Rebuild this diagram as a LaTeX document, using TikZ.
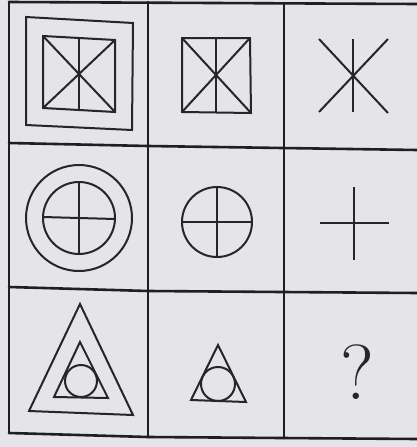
\documentclass[tikz,border=0pt]{standalone}
\begin{document}
\begin{tikzpicture}[x=1pt,y=-1pt,
  grid/.style={line width=2.6pt,color=black!88,line cap=round},
  fig/.style={line width=2pt,color=black!85,line join=miter}]
\definecolor{paper}{RGB}{228,228,233}
\fill[paper] (0,0) rectangle (417,447);
\useasboundingbox (0,0) rectangle (417,447);
% grid
\draw[grid] (9,2) -- (417,4);
\draw[grid] (9,143) -- (148,146) -- (417,150);
\draw[grid] (9,287) -- (148,291) -- (417,293);
\draw[grid] (9,433) -- (148,437) -- (417,439);
\draw[grid] (9,2) -- (9,433);
\draw[grid] (148,2) -- (148,437);
\draw[grid] (284,3) -- (284,438);
% row 1
\draw[fig] (26,17) -- (133,23) -- (132,130) -- (26,125) -- cycle;
\draw[fig] (43,36) -- (115,40) -- (115,112) -- (43,108) -- cycle;
\draw[fig] (79,38) -- (79,110);
\draw[fig] (43,36) -- (115,112);
\draw[fig] (115,40) -- (43,108);
\draw[fig] (182,38) -- (250,38) -- (251,113) -- (182,112) -- cycle;
\draw[fig] (216,38) -- (216,112);
\draw[fig] (182,38) -- (251,113);
\draw[fig] (250,38) -- (182,112);
\draw[fig] (319,39) -- (388,113);
\draw[fig] (388,39) -- (319,112);
\draw[fig] (353,39) -- (353,112);
% row 2
\draw[fig] (79,218) circle[radius=53];
\draw[fig] (79,218) circle[radius=36];
\draw[fig] (43,217) -- (115,219);
\draw[fig] (79,182) -- (79,254);
\draw[fig] (217,222) circle[radius=35];
\draw[fig] (182,222) -- (252,222);
\draw[fig] (217,187) -- (217,257);
\draw[fig] (320,223) -- (389,223);
\draw[fig] (354,187) -- (354,260);
% row 3
\draw[fig] (80,304) -- (133,415) -- (29,411) -- cycle;
\draw[fig] (80,342) -- (108,398) -- (54,397) -- cycle;
\draw[fig] (81,381) circle[radius=16];
\draw[fig] (218,345) -- (246,402) -- (191,400) -- cycle;
\draw[fig] (218,384) circle[radius=17];
\node[font=\fontsize{78}{80}\selectfont,text=black!85,inner sep=0pt] (q) at (357,372) {?};
\end{tikzpicture}
\end{document}
